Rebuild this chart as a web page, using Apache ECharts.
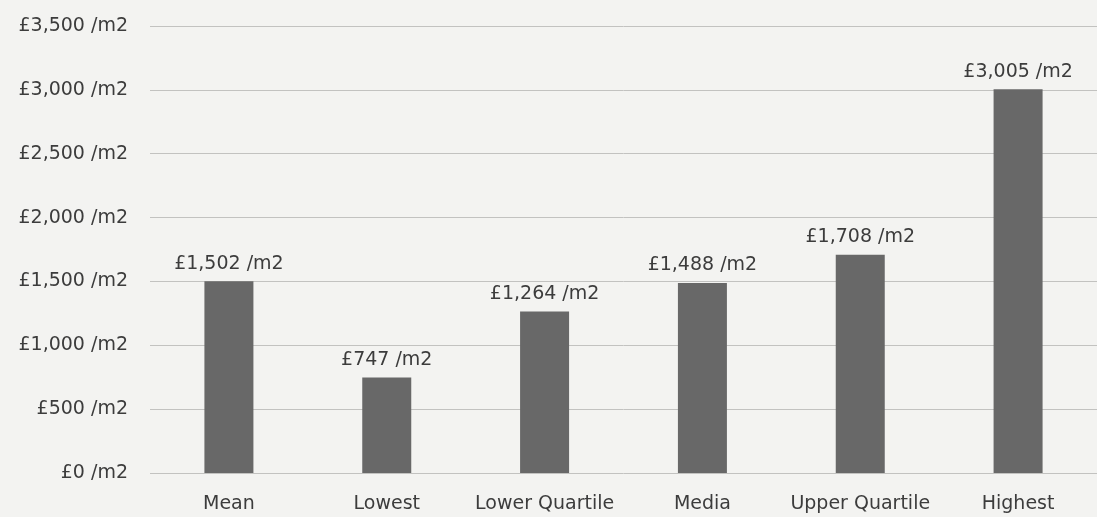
<!DOCTYPE html>
<html><head><meta charset="utf-8">
<style>html,body{margin:0;padding:0;background:#f3f3f1;}#c{width:1097px;height:517px;}</style>
<script src="https://cdn.jsdelivr.net/npm/echarts@6/dist/echarts.min.js"></script>
</head><body><div id="c"></div>
<script>
const categories = ["Mean", "Lowest", "Lower Quartile", "Media", "Upper Quartile", "Highest"];
const values = [1502, 747, 1264, 1488, 1708, 3005];
const yTicks = [0, 500, 1000, 1500, 2000, 2500, 3000, 3500];

function fmt(v) { return '£' + v.toLocaleString('en-GB') + ' /m2'; }

const chart = echarts.init(document.getElementById('c'));
chart.setOption({
  backgroundColor: '#f3f3f1',
  textStyle: { fontFamily: '"DejaVu Sans", sans-serif' },
  grid: { left: 150, right: -4, top: 26, bottom: 44, containLabel: false },
  xAxis: {
    type: 'category', data: categories,
    axisLine: { show: false }, axisTick: { show: false },
    axisLabel: { color: '#3c3c3c', fontSize: 19, margin: 22, interval: 0 }
  },
  yAxis: {
    type: 'value', min: yTicks[0], max: yTicks[yTicks.length - 1], interval: 500,
    axisLine: { show: false }, axisTick: { show: false },
    axisLabel: { color: '#3c3c3c', fontSize: 19, margin: 22, formatter: fmt },
    splitLine: { lineStyle: { color: '#c2c2c0', width: 1 } }
  },
  series: [{
    type: 'bar', data: values, barWidth: 49,
    itemStyle: { color: '#686868' },
    label: { show: true, position: 'top', distance: 8, color: '#3c3c3c', fontSize: 19, formatter: p => fmt(p.value) }
  }]
});
</script></body></html>
